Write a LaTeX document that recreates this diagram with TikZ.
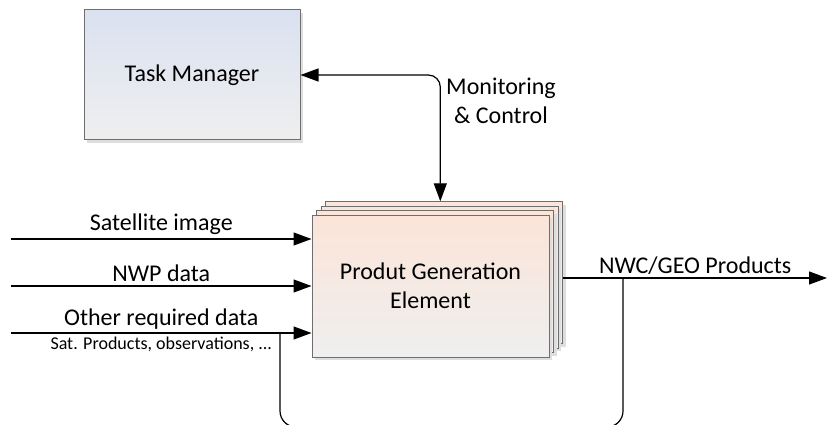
\documentclass[tikz,border=0pt]{standalone}
\usepackage{fontspec}
\setmainfont{Carlito}
\usepackage{tikz}
\usetikzlibrary{arrows.meta,shadows}

\definecolor{tmtop}{HTML}{DAE1F0}
\definecolor{pgetop}{HTML}{FBE4D8}
\definecolor{boxbot}{HTML}{EFEFEF}
\definecolor{edge}{HTML}{6E6E6E}

\begin{document}
\begin{tikzpicture}[x=1pt, y=-1pt,
    font=\fontsize{24}{29}\selectfont,
    box/.style={draw=edge, line width=1pt, bottom color=boxbot, align=center,
                drop shadow={shadow xshift=3pt, shadow yshift=-3pt, fill=black!13, opacity=1}},
    tmbox/.style={box, top color=tmtop, minimum width=216pt, minimum height=130pt},
    layer/.style={box, top color=pgetop, minimum width=237pt, minimum height=142pt},
    flow/.style={line width=1.2pt, -{Triangle[length=18pt,width=13pt]}},
    line/.style={line width=1.2pt}]
             \useasboundingbox (0,0) rectangle (827,425);

             \node[tmbox] (tm) at (192, 75) {Task Manager};

             % stacked element, back to front
             \foreach \k in {3,2,1} {
               \node[layer] (pge\k) at (430.5+4.6*\k, 286-4.4*\k) {};
             }
             \node[layer] (pge) at (430.5, 286) {Produt Generation\\Element};

             \draw[flow, {Triangle[length=18pt,width=13pt]}-{Triangle[length=18pt,width=13pt]}, rounded corners=12pt]
                  (tm.east) -| ([xshift=-4pt]pge3.north);
             \node[align=center] (mc) at (501, 101) {Monitoring\\\& Control};

             \coordinate (sat) at (11, 239);
             \coordinate (nwp) at (11, 286);
             \coordinate (oth) at (11, 333);
             \draw[flow] (sat) -- (sat -| pge.west) node[midway, above] {Satellite image};
             \draw[flow] (nwp) -- (nwp -| pge.west) node[midway, above] {NWP data};
             \draw[flow] (oth) -- (oth -| pge.west) node[midway, above] {Other required data}
                  node[midway, below, font=\fontsize{18}{22}\selectfont] {Sat. Products, observations, ...};

             \coordinate (out) at (827, 278);
             \draw[flow] (pge3.east |- out) -- (out) node[midway, above] {NWC/GEO Products};

             % loop back
             \coordinate (tap) at (623, 278);
             \coordinate (join) at (280, 333);
             \draw[line, rounded corners=16pt] (tap) -- ++(0,149) -| (join);
\end{tikzpicture}
\end{document}
